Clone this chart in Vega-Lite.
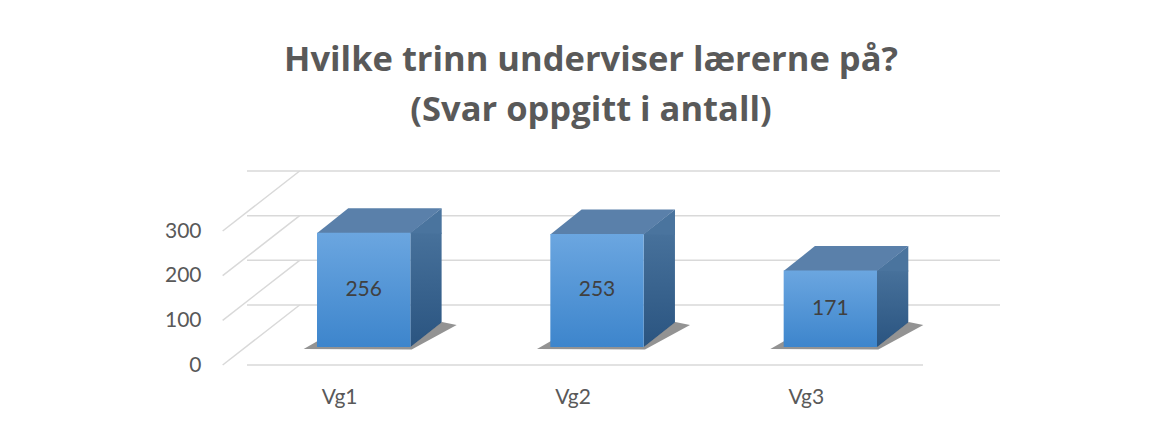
{
  "$schema": "https://vega.github.io/schema/vega-lite/v6.json",
  "width": 700,
  "height": 134,
  "autosize": "none",
  "padding": {"left": 247, "top": 213, "right": 220, "bottom": 76},
  "background": "white",
  "title": {
    "text": ["Hvilke trinn underviser lærerne på?", "(Svar oppgitt i antall)"],
    "font": "Open Sans",
    "fontSize": 34.5,
    "fontWeight": "bold",
    "color": "#595959",
    "lineHeight": 50,
    "anchor": "middle",
    "frame": "group",
    "offset": 42,
    "dx": -6
  },
  "datasets": {
    "bars": [
      {"trinn": "Vg1", "antall": 256},
      {"trinn": "Vg2", "antall": 253},
      {"trinn": "Vg3", "antall": 171}
    ],
    "grid": [{"v": 0}, {"v": 100}, {"v": 200}, {"v": 300}]
  },
  "config": {
    "view": {"stroke": null},
    "font": "Lato",
    "axisX": {"domain": false, "ticks": false, "tickSize": 0, "grid": false, "labelFont": "Lato", "labelFontSize": 21, "labelColor": "#595959", "labelAngle": 0, "labelOffset": -24, "labelPadding": 56, "labelBaseline": "alphabetic", "title": null},
    "axisY": {"domain": false, "ticks": false, "tickSize": 0, "grid": false, "labelFont": "Lato", "labelFontSize": 21, "labelColor": "#595959", "labelOffset": 18, "labelPadding": 46, "title": null}
  },
  "layer": [
    {
      "layer": [
        {
          "data": {"name": "grid"},
          "mark": {"type": "rule", "color": "#d9d9d9", "strokeWidth": 1.5, "xOffset": 53, "x2Offset": 53, "yOffset": -42},
          "encoding": {
            "y": {"field": "v", "type": "quantitative", "title": null, "scale": {"domain": [0, 300]}, "axis": {"values": [0, 100, 200, 300]}}
          }
        },
        {
          "data": {"name": "grid"},
          "mark": {"type": "rule", "color": "#d9d9d9", "strokeWidth": 1.5, "xOffset": -141, "x2Offset": -64, "yOffset": 18, "y2Offset": -42},
          "encoding": {
            "x": {"datum": "Vg1", "type": "nominal"},
            "x2": {"datum": "Vg1"},
            "y": {"field": "v", "type": "quantitative", "title": null},
            "y2": {"field": "v"}
          }
        },
        {
          "data": {"name": "grid"},
          "transform": [{"filter": "datum.v == 0"}],
          "mark": {"type": "rule", "color": "#d9d9d9", "strokeWidth": 1.5, "xOffset": -24, "x2Offset": -24, "yOffset": 18},
          "encoding": {
            "y": {"field": "v", "type": "quantitative", "title": null}
          }
        },
        {
          "data": {"name": "bars"},
          "mark": {
            "type": "bar",
            "width": 31.3,
            "xOffset": 62.3,
            "fill": {"gradient": "linear", "x1": 0, "y1": 0, "x2": 0, "y2": 1, "stops": [{"offset": 0, "color": "#47719b"}, {"offset": 1, "color": "#2a5480"}]}
          },
          "encoding": {
            "x": {"field": "trinn", "type": "nominal", "title": null, "sort": null, "scale": {"paddingInner": 0.6, "paddingOuter": 0.3}},
            "y": {"field": "antall", "type": "quantitative", "title": null}
          }
        },
        {
          "data": {"name": "bars"},
          "mark": {"type": "point", "shape": "M 46.3 0.6 L 78.6 -25 L 81 -25 L 81 1.5 L 46.3 1.5 Z", "size": 4, "filled": true, "fill": "white", "opacity": 1, "strokeWidth": 0},
          "encoding": {
            "x": {"field": "trinn", "type": "nominal", "title": null},
            "y": {"datum": 0, "type": "quantitative"}
          }
        },
        {
          "data": {"name": "bars"},
          "mark": {"type": "point", "shape": "M -60 2 L 48 2.5 L 93 -22 L 78.3 -25 L 46.7 0 L -46 -6 Z", "size": 4, "filled": true, "fill": "#3a3a3a", "opacity": 0.55, "strokeWidth": 0},
          "encoding": {
            "x": {"field": "trinn", "type": "nominal", "title": null},
            "y": {"datum": 0, "type": "quantitative"}
          }
        },
        {
          "data": {"name": "bars"},
          "mark": {"type": "point", "shape": "M 46 0.5 L 78 -24.5 L 78 1 Z", "size": 4, "filled": true, "fill": "#4a749e", "opacity": 1, "strokeWidth": 0},
          "encoding": {
            "x": {"field": "trinn", "type": "nominal", "title": null},
            "y": {"field": "antall", "type": "quantitative", "title": null}
          }
        },
        {
          "data": {"name": "bars"},
          "mark": {"type": "point", "shape": "M -46.7 0.5 L 46.7 0.5 L 78 -24.5 L -15.4 -24.5 Z", "size": 4, "filled": true, "fill": "#5a80aa", "opacity": 1, "strokeWidth": 0},
          "encoding": {
            "x": {"field": "trinn", "type": "nominal", "title": null},
            "y": {"field": "antall", "type": "quantitative", "title": null}
          }
        },
        {
          "data": {"name": "bars"},
          "mark": {
            "type": "bar",
            "fill": {"gradient": "linear", "x1": 0, "y1": 0, "x2": 0, "y2": 1, "stops": [{"offset": 0, "color": "#6ba6e0"}, {"offset": 1, "color": "#3d85cc"}]}
          },
          "encoding": {
            "x": {"field": "trinn", "type": "nominal", "title": null},
            "y": {"field": "antall", "type": "quantitative", "title": null}
          }
        }
      ]
    },
    {
      "data": {"name": "bars"},
      "mark": {"type": "text", "font": "Lato", "fontSize": 21, "color": "#404040", "baseline": "middle"},
      "encoding": {
        "x": {"field": "trinn", "type": "nominal", "title": null},
        "y": {"field": "antall", "type": "quantitative", "scale": {"domain": [0, 600]}, "axis": null},
        "text": {"field": "antall", "type": "quantitative"}
      }
    }
  ],
  "resolve": {"scale": {"y": "independent"}}
}
